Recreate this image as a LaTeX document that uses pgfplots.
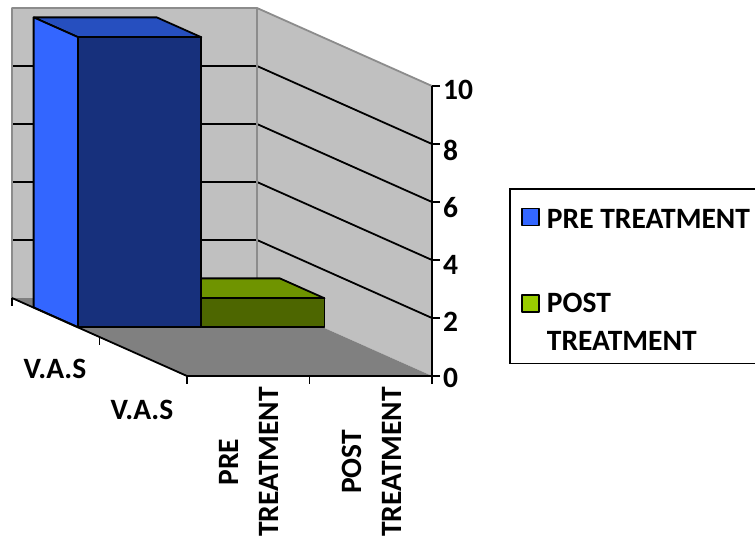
\documentclass[border=0pt]{standalone}
\usepackage{fontspec}
\setmainfont{Carlito}
\usepackage{pgfplots}
\pgfplotsset{compat=1.18}
\definecolor{wall}{HTML}{C0C0C0}
\definecolor{floorc}{HTML}{808080}
\definecolor{edge}{HTML}{8C8C8C}
\definecolor{blueside}{HTML}{3366FF}
\definecolor{bluefront}{HTML}{17307C}
\definecolor{bluetop}{HTML}{264FBF}
\definecolor{greenkey}{HTML}{99CC00}
\definecolor{greentop}{HTML}{6F9400}
\definecolor{greenfront}{HTML}{4D6600}
\newcommand{\lab}{\fontsize{29.5}{40}\bfseries\selectfont}
\begin{document}
\begin{tikzpicture}
\path[use as bounding box] (0,0) rectangle (755pt,539pt);
\begin{axis}[
  at={(187pt,163pt)}, anchor=origin,
  x={(122.5pt,0pt)}, y={(-87.5pt,39pt)}, z={(0pt,29pt)},
  xmin=0, xmax=2, ymin=0, ymax=2, zmin=0, zmax=10,
  hide axis, clip=false,
  every axis plot/.append style={forget plot, line join=round, line cap=butt, mark=none},
  grid3/.style={black, line width=1.8pt},
  blk/.style={draw=black, line width=1.8pt},
  legend image code/.code={\draw[#1] (0pt,-8.5pt) rectangle (17pt,8.5pt);},
  legend style={at={(1.184,0.511)}, anchor=north west, draw=black, line width=1.8pt,
     font=\lab, row sep=13.5pt, column sep=5pt, inner xsep=11pt, inner ysep=9pt,
     cells={anchor=west}, nodes={inner sep=2pt}},
  legend cell align=left,
]
% walls and floor
\addplot3[fill=wall, draw=none] coordinates {(0,2,0) (2,2,0) (2,2,10) (0,2,10) (0,2,0)};
\addplot3[fill=wall, draw=none] coordinates {(2,2,0) (2,0,0) (2,0,10) (2,2,10) (2,2,0)};
\addplot3[fill=floorc, draw=none] coordinates {(0,0,0) (2,0,0) (2,2,0) (0,2,0) (0,0,0)};
% gridlines
\addplot3[grid3] coordinates {(0,2,2) (2,2,2) (2,0,2)};
\addplot3[grid3] coordinates {(0,2,4) (2,2,4) (2,0,4)};
\addplot3[grid3] coordinates {(0,2,6) (2,2,6) (2,0,6)};
\addplot3[grid3] coordinates {(0,2,8) (2,2,8) (2,0,8)};
% wall edges
\addplot3[draw=edge, line width=1.8pt] coordinates {(0,2,0) (0,2,10) (2,2,10) (2,0,10)};
\addplot3[draw=edge, line width=1.8pt] coordinates {(2,2,0) (2,2,10)};
% POST TREATMENT bar (value 1)
\addplot3[fill=greentop, blk] coordinates {(1.01,1.25,1) (2.015,1.25,1) (2.015,1.76,1) (1.01,1.76,1) (1.01,1.25,1)};
\addplot3[fill=greenfront, blk] coordinates {(1.01,1.25,0) (2.015,1.25,0) (2.015,1.25,1) (1.01,1.25,1) (1.01,1.25,0)};
% PRE TREATMENT bar (value 10)
\addplot3[fill=bluetop, blk] coordinates {(0.005,1.25,10) (1.01,1.25,10) (1.01,1.76,10) (0.005,1.76,10) (0.005,1.25,10)};
\addplot3[fill=blueside, blk] coordinates {(0.005,1.25,0) (0.005,1.25,10) (0.005,1.76,10) (0.005,1.76,0) (0.005,1.25,0)};
\addplot3[fill=bluefront, blk] coordinates {(0.005,1.25,0) (1.01,1.25,0) (1.01,1.25,10) (0.005,1.25,10) (0.005,1.25,0)};
% axes and ticks
\addplot3[black, line width=1.8pt] coordinates {(0,2,0) (0,0,0) (2,0,0)};
\addplot3[black, line width=1.8pt] coordinates {(2,0,-0.28) (2,0,10)};
\addplot3[black, line width=1.5pt] coordinates {(0,2,0) (0,2,-0.28)};
\addplot3[black, line width=1.5pt] coordinates {(0,1,0) (0,1,-0.28)};
\addplot3[black, line width=1.5pt] coordinates {(0,0,0) (0,0,-0.28)};
\addplot3[black, line width=1.5pt] coordinates {(1,0,0) (1,0,-0.28)};
\addplot3[black, line width=1.5pt] coordinates {(2,0,2) (2.065,0,2)};
\addplot3[black, line width=1.5pt] coordinates {(2,0,4) (2.065,0,4)};
\addplot3[black, line width=1.5pt] coordinates {(2,0,6) (2.065,0,6)};
\addplot3[black, line width=1.5pt] coordinates {(2,0,8) (2.065,0,8)};
\addplot3[black, line width=1.5pt] coordinates {(2,0,10) (2.065,0,10)};
\addplot3[black, line width=1.5pt] coordinates {(2,0,0) (2.065,0,0)};
% legend
\addlegendimage{fill=blueside, draw=black, line width=1.8pt, yshift=-2pt}
\addlegendentry{\rule{0pt}{28.6pt}PRE TREATMENT}
\addlegendimage{empty legend}
\addlegendentry{\rule{0pt}{27pt}}
\addlegendimage{fill=greenkey, draw=black, line width=1.8pt}
\addlegendentry{POST}
\addlegendimage{empty legend}
\addlegendentry{TREATMENT}
\end{axis}
% tick labels
\foreach \v/\py in {0/378,2/322,4/265,6/208,8/150}
  \node[font=\lab, anchor=west, inner sep=0pt] at (443pt,{(539-\py)*1pt}) {\v};
\node[font=\lab, anchor=west, inner sep=0pt] at (443pt,{(539-90)*1pt}) {10};
\node[font=\lab, inner sep=0pt] at (55pt,170pt) {V.A.S};
\node[font=\lab, inner sep=0pt] at (142pt,129pt) {V.A.S};
\node[font=\lab, rotate=90, align=center, inner sep=0pt] at (249pt,77pt) {PRE\\TREATMENT};
\node[font=\lab, rotate=90, align=center, inner sep=0pt] at (372pt,77pt) {POST\\TREATMENT};
\end{tikzpicture}
\end{document}
